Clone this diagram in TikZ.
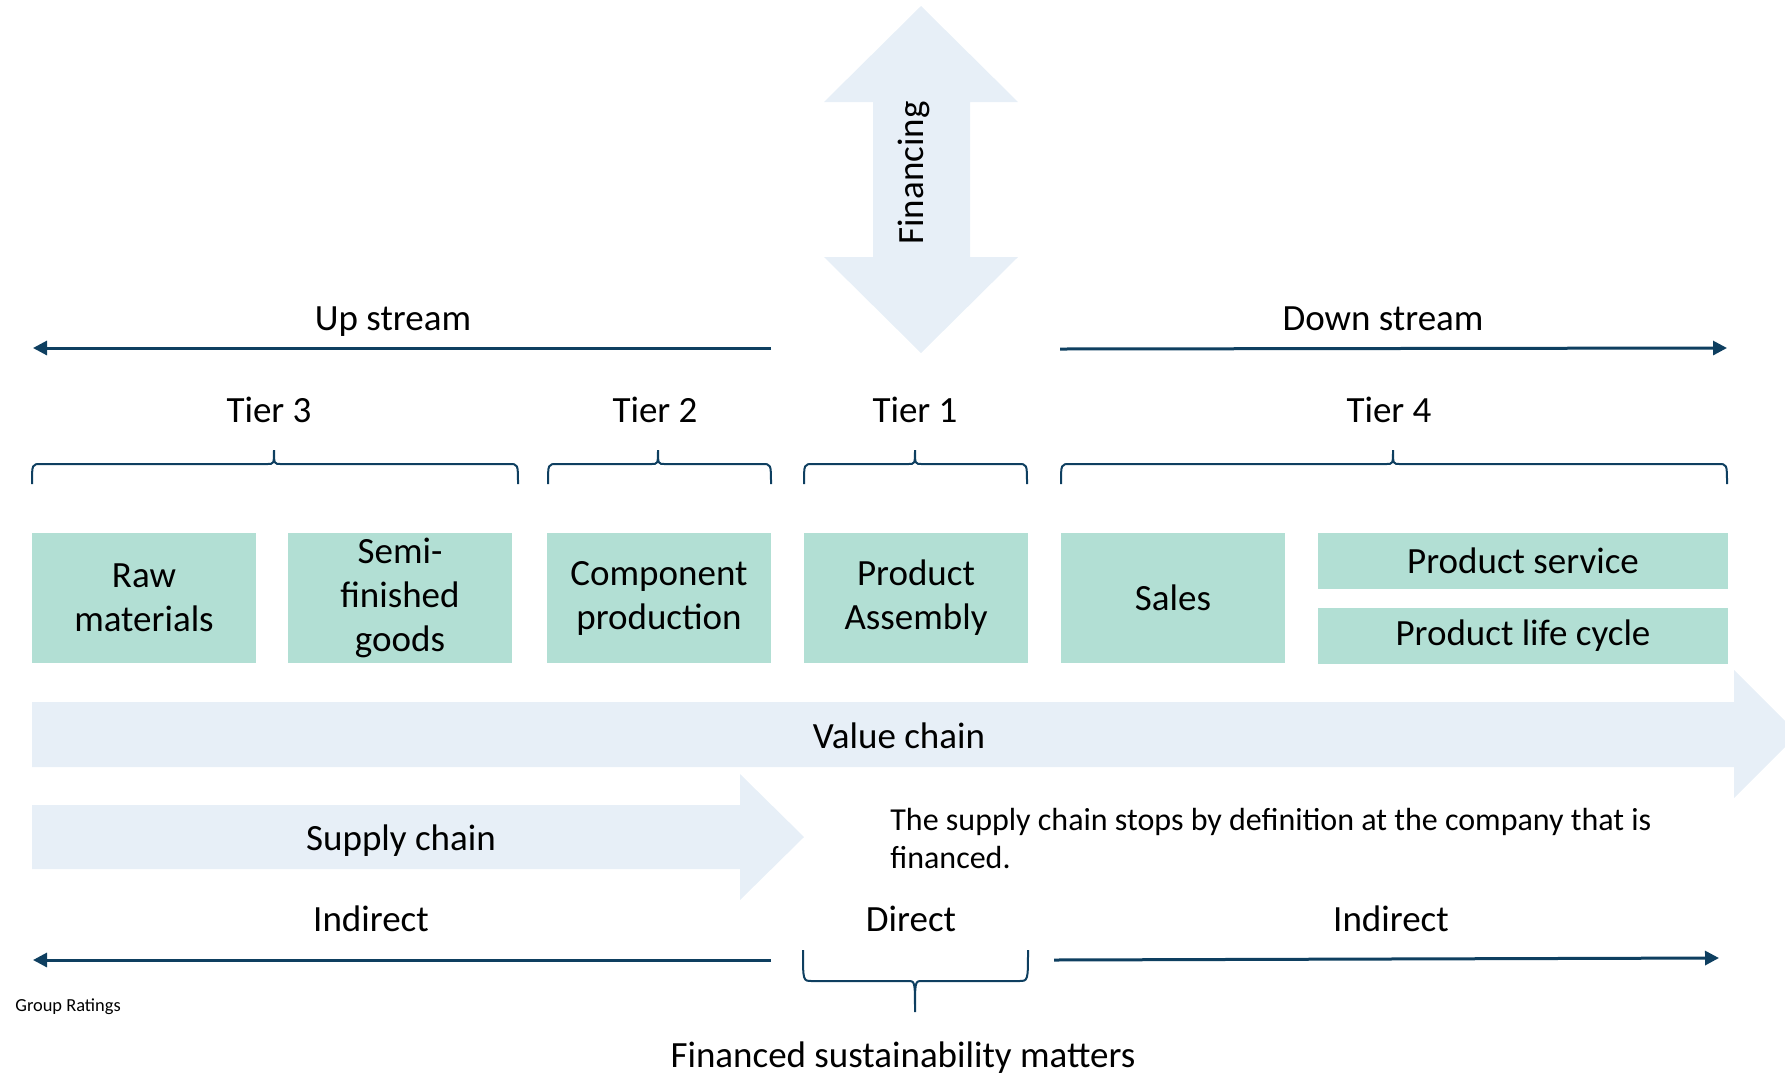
\documentclass[tikz,border=0pt]{standalone}
\usepackage{fontspec}
\setmainfont{Carlito}
\usetikzlibrary{arrows.meta}

\definecolor{mint}{HTML}{B2DFD4}
\definecolor{paleblue}{HTML}{E7EFF7}
\definecolor{navy}{HTML}{0E3F60}

\newcommand{\bigfont}{\fontsize{18.5}{22}\selectfont}
% curly brace: x-left, x-middle, x-right, y-ends, y-line, y-tip
\newcommand{\curlybrace}[6]{%
  \draw[bracestyle] (#1,#4) .. controls (#1,#5) .. (#1+9,#5) -- (#2-7,#5)
    .. controls (#2,#5) .. (#2,#6) .. controls (#2,#5) .. (#2+7,#5)
    -- (#3-9,#5) .. controls (#3,#5) .. (#3,#4);}

\begin{document}
\begin{tikzpicture}[x=0.5pt,y=-0.5pt,
    stagebox/.style={fill=mint,minimum width=112pt,minimum height=65pt,
      inner sep=0pt,align=center,font=\bigfont},
    thinbox/.style={stagebox,minimum width=205pt,minimum height=28pt},
    txt/.style={font=\bigfont,inner sep=0pt},
    flow/.style={draw=navy,line width=1.5pt,-{Triangle[length=7pt,width=7pt]}},
    bracestyle/.style={draw=navy,line width=1pt}]
  \useasboundingbox (0,0) rectangle (1785,1078);

  % block arrows
  \fill[paleblue] (921,6) -- (1018,102) -- (970,102) -- (970,257) -- (1018,257)
    -- (921,353) -- (824,257) -- (873,257) -- (873,102) -- (824,102) -- cycle;
  \fill[paleblue] (32,702) -- (1734,702) -- (1734,670) -- (1798,734)
    -- (1734,798) -- (1734,767) -- (32,767) -- cycle;
  \fill[paleblue] (32,805) -- (740,805) -- (740,774) -- (804,837)
    -- (740,900) -- (740,869) -- (32,869) -- cycle;
  \node[txt,rotate=90] (financing) at (914,173) {Financing};
  \node[txt] (value) at (899,736) {Value chain};
  \node[txt] (supply) at (401,841) {Supply chain};

  % streams
  \node[txt] (upstream) at (393,322) {Up stream};
  \node[txt] (downstream) at (1383,319) {Down stream};
  \coordinate (up-a) at (771,348);
  \coordinate (up-b) at (33,348);
  \coordinate (down-a) at (1060,349);
  \coordinate (down-b) at (1727,348);
  \draw[flow] (up-a) -- (up-b);
  \draw[flow] (down-a) -- (down-b);

  % tiers
  \node[txt] (tier3) at (269,410) {Tier 3};
  \node[txt] (tier2) at (655,410) {Tier 2};
  \node[txt] (tier1) at (915,410) {Tier 1};
  \node[txt] (tier4) at (1389,410) {Tier 4};
  \curlybrace{32}{274}{518}{484}{464}{450}
  \curlybrace{548}{658}{771}{484}{464}{450}
  \curlybrace{804}{915}{1027}{484}{464}{450}
  \curlybrace{1061}{1393}{1727}{484}{464}{450}

  % stages
  \node[stagebox] (raw) at (144,598) {Raw\\materials};
  \node[stagebox] (semi) at (400,598) {Semi-\\finished\\goods};
  \node[stagebox] (component) at (659,598) {Component\\production};
  \node[stagebox] (assembly) at (916,598) {Product\\Assembly};
  \node[stagebox] (sales) at (1173,598) {Sales};
  \node[thinbox] (service) at (1523,561) {Product service};
  \node[thinbox] (lifecycle) at (1523,635.5) {Product life cycle};

  \node[anchor=base west,align=left,inner sep=0pt,
    font=\fontsize{16}{19}\selectfont] (note) at (890,868)
    {The supply chain stops by definition at the company that is\\financed.};

  % direct / indirect
  \node[txt] (indirect-l) at (371,919) {Indirect};
  \node[txt] (direct) at (911,919) {Direct};
  \node[txt] (indirect-r) at (1391,919) {Indirect};
  \coordinate (ind-a) at (771,960);
  \coordinate (ind-b) at (33,960);
  \coordinate (ind-c) at (1054,960);
  \coordinate (ind-d) at (1719,958);
  \draw[flow] (ind-a) -- (ind-b);
  \draw[flow] (ind-c) -- (ind-d);
  \curlybrace{803}{915}{1028}{950}{981}{1012}

  \node[anchor=west,inner sep=0pt,font=\fontsize{9.2}{11}\selectfont] (source) at (15,1007) {Group Ratings};
  \node[txt] (matters) at (903,1058) {Financed sustainability matters};
\end{tikzpicture}
\end{document}
